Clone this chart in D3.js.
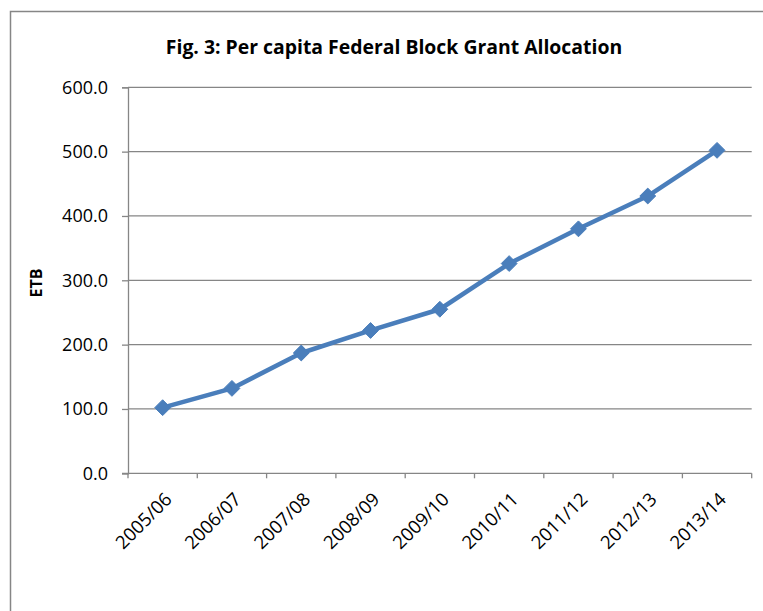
<!DOCTYPE html>
<html>
<head>
<meta charset="utf-8">
<script src="https://cdn.jsdelivr.net/npm/d3@7"></script>
<style>
  html, body { margin: 0; padding: 0; background: #fff; }
  svg { display: block; }
  text { font-family: "Open Sans", "Noto Sans", sans-serif; fill: #000; }
</style>
</head>
<body>
<svg id="chart" width="763" height="611"></svg>
<script>
// Fiscal years on the category axis
const categories = ["2005/06", "2006/07", "2007/08", "2008/09", "2009/10",
                    "2010/11", "2011/12", "2012/13", "2013/14"];
// Per capita federal block grant allocation (ETB)
const values = [102, 132, 187, 222, 255, 326, 380, 431, 502];
// Value axis ticks
const yTicks = [0, 100, 200, 300, 400, 500, 600];

const titleText = "Fig. 3: Per capita Federal Block Grant Allocation";
const yTitle = "ETB";

const svg = d3.select("#chart");
const plot = { left: 128, right: 751.7, top: 87.3, bottom: 473.3 };
const gray = "#868686";
const blue = "#4a7ebb";

// Outer frame of the chart area
svg.append("path")
  .attr("d", "M10.5,611 V11.5 H763")
  .attr("fill", "none").attr("stroke", gray).attr("stroke-width", 1.5);

const x = d3.scaleBand().domain(categories).range([plot.left, plot.right]);
const y = d3.scaleLinear().domain([0, 600]).range([plot.bottom, plot.top]);

// Horizontal gridlines
svg.append("g").selectAll("line")
  .data(yTicks.filter(d => d > 0))
  .join("line")
  .attr("x1", plot.left).attr("x2", plot.right)
  .attr("y1", d => y(d)).attr("y2", d => y(d))
  .attr("stroke", gray).attr("stroke-width", 1.3);

// Value axis
const yAxis = svg.append("g")
  .attr("transform", `translate(${plot.left},0)`)
  .call(d3.axisLeft(y).tickValues(yTicks).tickSize(6).tickPadding(14)
          .tickFormat(d3.format(".1f")));
yAxis.select(".domain").attr("stroke", gray).attr("stroke-width", 1.3);
yAxis.selectAll(".tick line").attr("stroke", gray).attr("stroke-width", 1.3);
yAxis.selectAll(".tick text")
  .style("font-family", "'Open Sans', sans-serif")
  .style("font-size", "18px").attr("fill", "#000");

// Category axis: baseline, ticks on band boundaries, rotated labels
const xAxis = svg.append("g");
xAxis.append("line")
  .attr("x1", plot.left - 6).attr("x2", plot.right)
  .attr("y1", plot.bottom).attr("y2", plot.bottom)
  .attr("stroke", gray).attr("stroke-width", 1.3);
const bounds = categories.map(c => x(c)).concat([x(categories[categories.length - 1]) + x.bandwidth()]);
xAxis.selectAll("line.tk").data(bounds).join("line").attr("class", "tk")
  .attr("x1", d => d).attr("x2", d => d)
  .attr("y1", plot.bottom).attr("y2", plot.bottom + 5)
  .attr("stroke", gray).attr("stroke-width", 1.3);
xAxis.selectAll("text").data(categories).join("text")
  .attr("transform", d => `translate(${x(d) + x.bandwidth() / 2 + 5},${plot.bottom + 22}) rotate(-45)`)
  .attr("text-anchor", "end")
  .attr("dominant-baseline", "central")
  .style("font-size", "18.5px")
  .text(d => d);

// Series line with diamond markers
const line = d3.line()
  .x((d, i) => x(categories[i]) + x.bandwidth() / 2)
  .y(d => y(d));
svg.append("path")
  .datum(values)
  .attr("d", line)
  .attr("fill", "none").attr("stroke", blue)
  .attr("stroke-width", 4.5).attr("stroke-linejoin", "round");

svg.append("g").selectAll("path")
  .data(values)
  .join("path")
  .attr("d", d3.symbol().type(d3.symbolDiamond2).size(160))
  .attr("transform", (d, i) => `translate(${x(categories[i]) + x.bandwidth() / 2},${y(d)})`)
  .attr("fill", blue).attr("stroke", blue).attr("stroke-width", 1);

// Chart title
svg.append("text")
  .attr("x", 394).attr("y", 54)
  .attr("text-anchor", "middle")
  .style("font-size", "19.4px").style("font-weight", "bold")
  .text(titleText);

// Value axis title
svg.append("text")
  .attr("transform", "translate(41.5,283) rotate(-90)")
  .attr("text-anchor", "middle")
  .style("font-size", "16px").style("font-weight", "bold")
  .text(yTitle);
</script>
</body>
</html>
